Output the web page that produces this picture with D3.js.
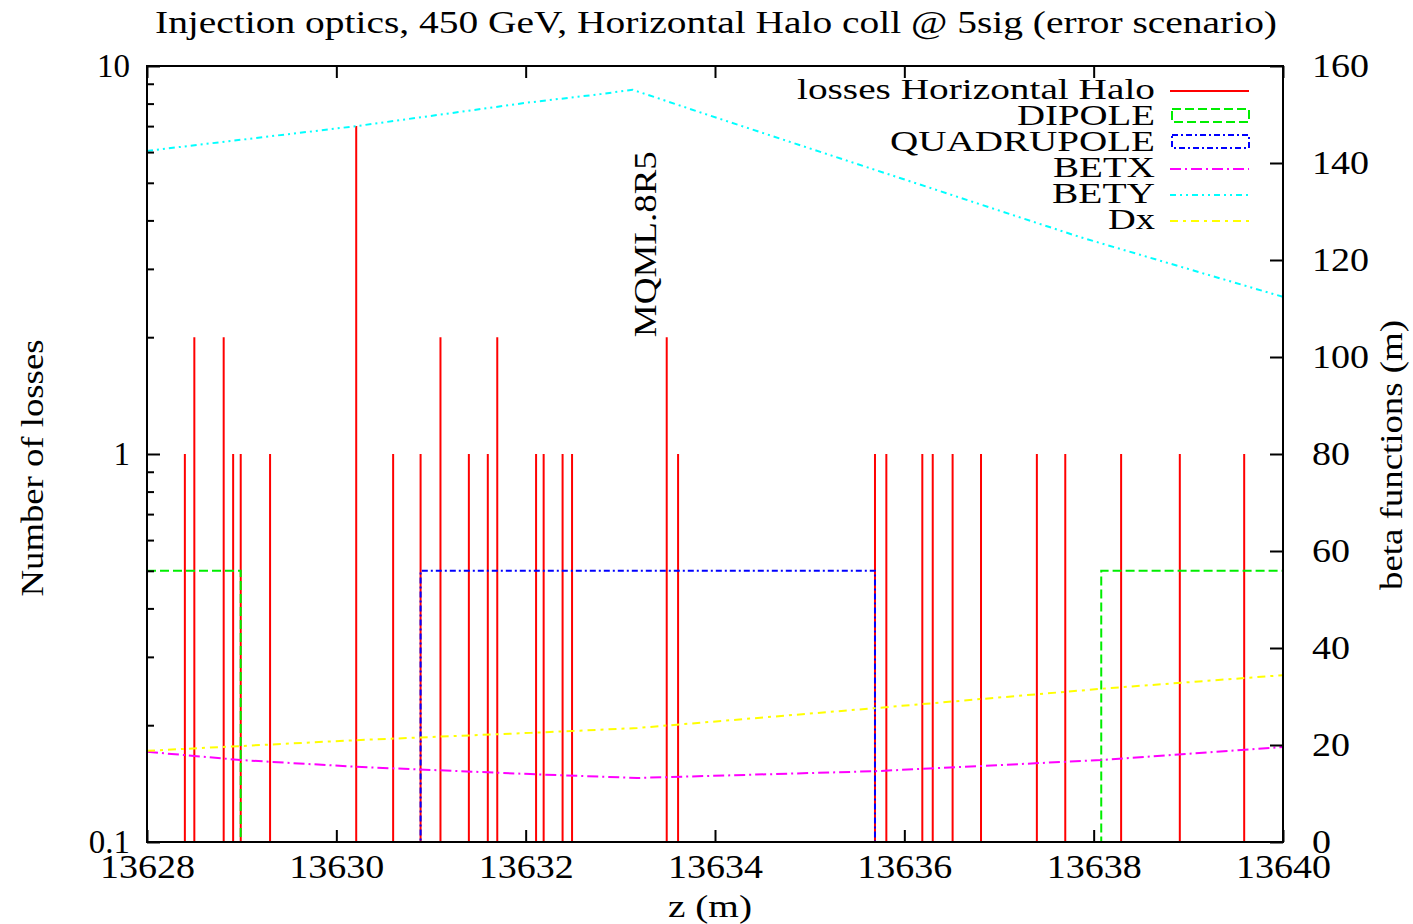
<!DOCTYPE html>
<html>
<head>
<meta charset="utf-8">
<script src="https://cdn.jsdelivr.net/npm/d3@7"></script>
<style>
  html, body { margin: 0; padding: 0; background: #fff; }
  svg { display: block; }
  text { font-family: "Liberation Serif", "DejaVu Serif", serif; fill: #000; }
</style>
</head>
<body>
<svg id="chart" width="1413" height="924"></svg>
<script>
// ---- data ----
const titleText = "Injection optics, 450 GeV, Horizontal Halo coll @ 5sig (error scenario)";
const xTicks = [13628, 13630, 13632, 13634, 13636, 13638, 13640];
const yLeftTicks = [0.1, 1, 10];
const yLeftMinor = [0.2,0.3,0.4,0.5,0.6,0.7,0.8,0.9,2,3,4,5,6,7,8,9];
const yRightTicks = [0, 20, 40, 60, 80, 100, 120, 140, 160];

const lossZ = [13628.40, 13628.50, 13628.81, 13628.91, 13628.99, 13629.30, 13630.21, 13630.60,
               13630.89, 13631.10, 13631.40, 13631.60, 13631.70, 13632.11, 13632.19, 13632.39,
               13632.49, 13633.49, 13633.61, 13635.69, 13635.81, 13636.19, 13636.30, 13636.51,
               13636.81, 13637.40, 13637.70, 13638.29, 13638.91, 13639.59];
const lossN = [1,2,2,1,1,1,7,1,1,2,1,1,2,1,1,1,1,2,1,1,1,1,1,1,1,1,1,1,1,1];

const dipoleZ = [13628, 13628.99, 13628.99, 13638.08, 13638.08, 13640];
const dipoleV = [0.5, 0.5, 0.1, 0.1, 0.5, 0.5];
const quadZ = [13628, 13630.89, 13630.89, 13635.69, 13635.69, 13640];
const quadV = [0.1, 0.1, 0.5, 0.5, 0.1, 0.1];

const betxZ = [13628, 13628.99, 13630.21, 13632.05, 13633.18, 13635.69, 13638.08, 13640];
const betxV = [18.6, 16.9, 15.5, 14.0, 13.2, 14.6, 16.9, 19.6];

const betyZ = [13628, 13630.21, 13632.0, 13632.79, 13633.13, 13634.02, 13634.69, 13637.86, 13640];
const betyV = [142.5, 147.6, 152.4, 154.2, 155.1, 149.3, 145.0, 124.7, 112.4];

const dxZ = [13628, 13630.21, 13632.05, 13633.18, 13635.69, 13638.08, 13640];
const dxV = [18.8, 21.0, 22.5, 23.5, 27.6, 31.6, 34.4];

const legendLabels = ["losses Horizontal Halo", "DIPOLE", "QUADRUPOLE", "BETX", "BETY", "Dx"];
const legendWidths = [358, 138, 265, 102, 103, 47];
const seriesColors = ["#ff0000", "#00ee00", "#0000ff", "#ff00ff", "#00ffff", "#ffff00"];
const seriesDash = [null, "9,4", "6,3,2,3", "11,4,2,4", "6,4,2,4,2,4", "8,5,3,5"];

// ---- layout ----
const L = 147, R = 1283, T = 66, B = 842;
const svg = d3.select("#chart");

const x = d3.scaleLinear().domain([13628, 13640]).range([L, R]);
const yL = d3.scaleLog().domain([0.1, 10]).range([B, T]);
const yR = d3.scaleLinear().domain([0, 160]).range([B, T]);

// title
svg.append("text")
  .attr("x", 155).attr("y", 33)
  .attr("font-size", 31)
  .attr("textLength", 1122).attr("lengthAdjust", "spacingAndGlyphs")
  .text(titleText);

const plot = svg.append("g");

// losses (impulses)
plot.selectAll("line.loss").data(lossZ).join("line")
  .attr("class", "loss")
  .attr("x1", d => x(d)).attr("x2", d => x(d))
  .attr("y1", yL(0.1))
  .attr("y2", (d, i) => yL(lossN[i]))
  .attr("stroke", seriesColors[0]).attr("stroke-width", 2);

function drawLine(zs, vs, yScale, idx) {
  const pts = zs.map((z, i) => [z, vs[i]]);
  const gen = d3.line().x(d => x(d[0])).y(d => yScale(d[1]));
  plot.append("path").datum(pts)
    .attr("d", gen)
    .attr("fill", "none")
    .attr("stroke", seriesColors[idx])
    .attr("stroke-width", 2)
    .attr("stroke-dasharray", seriesDash[idx]);
}
drawLine(dipoleZ, dipoleV, yL, 1);
drawLine(quadZ, quadV, yL, 2);
drawLine(betxZ, betxV, yR, 3);
drawLine(betyZ, betyV, yR, 4);
drawLine(dxZ, dxV, yR, 5);

// MQML label
const lblZ = lossZ[17];
svg.append("text")
  .attr("transform", `translate(${x(lblZ) - 11},${yL(2)}) rotate(-90)`)
  .attr("font-size", 32)
  .attr("textLength", 186).attr("lengthAdjust", "spacingAndGlyphs")
  .text("MQML.8R5");

// frame
svg.append("rect")
  .attr("x", L).attr("y", T).attr("width", R - L).attr("height", B - T)
  .attr("fill", "none").attr("stroke", "#000").attr("stroke-width", 2);

// axes
function styleAxis(g) {
  g.select(".domain").remove();
  g.selectAll(".tick line").attr("stroke", "#000").attr("stroke-width", 2);
  g.selectAll(".tick text").attr("font-family", "Liberation Serif, serif").attr("font-size", 33).attr("fill", "#000");
}
function stretch(g, perChar) {
  g.selectAll(".tick text").each(function () {
    const t = d3.select(this);
    const s = t.text();
    if (s) t.attr("textLength", s.length * perChar).attr("lengthAdjust", "spacingAndGlyphs");
  });
}
svg.append("g").attr("transform", `translate(0,${B})`)
  .call(d3.axisBottom(x).tickValues(xTicks).tickFormat(d3.format("d")).tickSize(-12).tickPadding(13))
  .call(styleAxis).call(g => stretch(g, 19));
svg.append("g").attr("transform", `translate(0,${T})`)
  .call(d3.axisTop(x).tickValues(xTicks).tickFormat("").tickSize(-12))
  .call(styleAxis);
svg.append("g").attr("transform", `translate(${L},0)`)
  .call(d3.axisLeft(yL).tickValues(yLeftTicks).tickFormat(d => d === 0.1 ? "0.1" : String(d)).tickSize(-13).tickPadding(17))
  .call(styleAxis);
svg.append("g").attr("transform", `translate(${L},0)`)
  .call(d3.axisLeft(yL).tickValues(yLeftMinor).tickFormat("").tickSize(-7))
  .call(styleAxis);
svg.append("g").attr("transform", `translate(${R},0)`)
  .call(d3.axisRight(yR).tickValues(yRightTicks).tickSize(-13).tickPadding(29))
  .call(styleAxis).call(g => stretch(g, 19));

// axis labels
svg.append("text")
  .attr("transform", `translate(43,${468}) rotate(-90)`)
  .attr("text-anchor", "middle").attr("font-size", 32)
  .attr("textLength", 257).attr("lengthAdjust", "spacingAndGlyphs")
  .text("Number of losses");
svg.append("text")
  .attr("transform", `translate(1402,${455}) rotate(-90)`)
  .attr("text-anchor", "middle").attr("font-size", 32)
  .attr("textLength", 270).attr("lengthAdjust", "spacingAndGlyphs")
  .text("beta functions (m)");
svg.append("text")
  .attr("x", 668).attr("y", 917)
  .attr("font-size", 32)
  .attr("textLength", 84).attr("lengthAdjust", "spacingAndGlyphs")
  .text("z (m)");

// legend
const legY0 = 89, legDy = 26;
const leg = svg.append("g");
legendLabels.forEach((lab, i) => {
  const cy = legY0 + i * legDy;
  leg.append("text")
    .attr("x", 1155 - legendWidths[i]).attr("y", cy + 10)
    .attr("font-size", 30)
    .attr("textLength", legendWidths[i]).attr("lengthAdjust", "spacingAndGlyphs")
    .text(lab);
  if (i === 1 || i === 2) {
    leg.append("rect")
      .attr("x", 1172).attr("y", cy - 6).attr("width", 77).attr("height", 13)
      .attr("fill", "none").attr("stroke", seriesColors[i]).attr("stroke-width", 2)
      .attr("stroke-dasharray", seriesDash[i]);
  } else {
    leg.append("line")
      .attr("x1", 1170).attr("x2", 1249).attr("y1", cy + 2).attr("y2", cy + 2)
      .attr("stroke", seriesColors[i]).attr("stroke-width", 2)
      .attr("stroke-dasharray", seriesDash[i]);
  }
});
</script>
</body>
</html>
